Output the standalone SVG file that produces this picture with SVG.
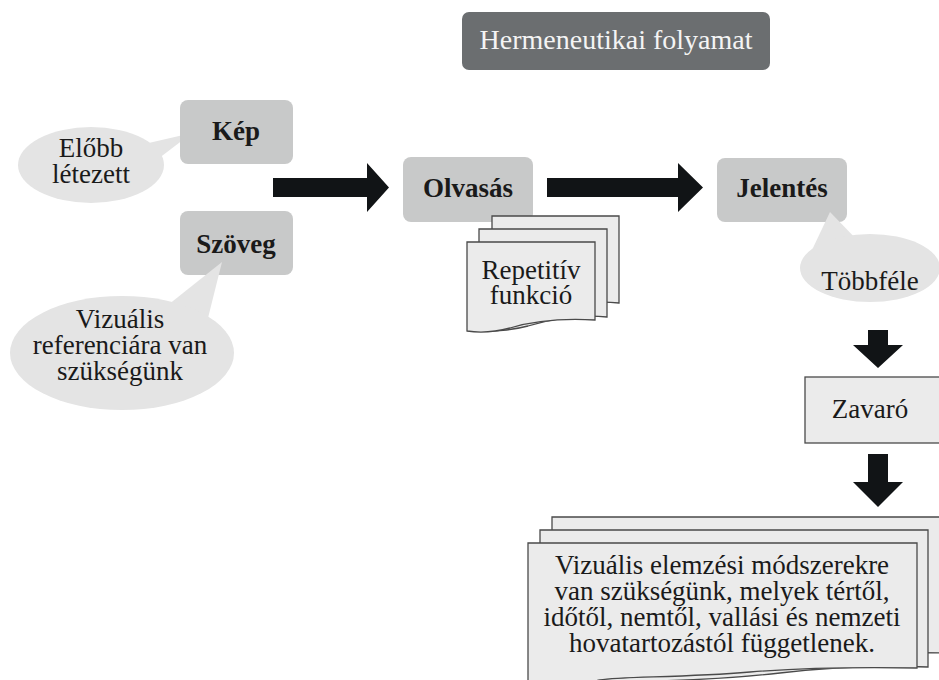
<svg xmlns="http://www.w3.org/2000/svg" width="939" height="680" viewBox="0 0 939 680" font-family="Liberation Serif, serif">
<style>
text{font-size:27px;fill:#1a1a1a;text-anchor:middle;stroke:none}
.b{font-weight:bold}
.hd{fill:#f4f4f4;font-size:28px}
.box{fill:#c8c9c9}
.bub{fill:#e4e4e4}
.page{fill:#ebebeb;stroke:#4a4a4a;stroke-width:1.3}
.arr{fill:#111416}
</style>
<rect width="939" height="680" fill="#ffffff"/>
<g id="header">
<rect x="462" y="12" width="308" height="58" rx="7" fill="#6b6e70"/>
<text class="hd" x="616" y="49">Hermeneutikai folyamat</text>
</g>
<g id="connectors">
<polygon class="arr" points="273,178 367,178 367,163 389,187.5 367,212 367,197 273,197"/>
<polygon class="arr" points="547,178 678,178 678,163 703,187.5 678,212 678,197 547,197"/>
<polygon class="arr" points="868,330 888,330 888,345 903,345 878,368 853,345 868,345"/>
<polygon class="arr" points="868,454 888,454 888,482 903,482 878,507 853,482 868,482"/>
</g>
<g id="bubble-elobb">
<polygon class="bub" points="140,145 192,133 150,165"/>
<ellipse class="bub" cx="91" cy="165" rx="73" ry="38"/>
<text><tspan x="91" y="157">Előbb</tspan><tspan x="91" y="183">létezett</tspan></text>
</g>
<g id="kep">
<rect class="box" x="180" y="100" width="113" height="64" rx="8"/>
<text class="b" x="236" y="140">Kép</text>
</g>
<g id="szoveg">
<rect class="box" x="180" y="211" width="113" height="64" rx="8"/>
<text class="b" x="236" y="253">Szöveg</text>
</g>
<g id="bubble-vizualis">
<polygon class="bub" points="168,305 222,262 208,318"/>
<ellipse class="bub" cx="122" cy="353" rx="112" ry="57"/>
<text><tspan x="120" y="328">Vizuális</tspan><tspan x="120" y="354">referenciára van</tspan><tspan x="120" y="380">szükségünk</tspan></text>
</g>
<g id="olvasas">
<rect class="box" x="403" y="157" width="130" height="65" rx="8"/>
<text class="b" x="468" y="197">Olvasás</text>
</g>
<g id="repetitiv">
<path class="page" d="M492,216 H619 V303 C590,300 560,306 540,312 C525,316 505,318 492,316 Z"/>
<path class="page" d="M479,229 H607 V317 C578,314 548,320 528,326 C513,330 493,332 479,330 Z"/>
<path class="page" d="M467,242 H595 V320 C560,318 530,322 510,328 C495,332 480,333 467,331 Z"/>
<text><tspan x="531" y="279">Repetitív</tspan><tspan x="531" y="304">funkció</tspan></text>
</g>
<g id="jelentes">
<rect class="box" x="717" y="158" width="130" height="64" rx="8"/>
<text class="b" x="782" y="197">Jelentés</text>
</g>
<g id="bubble-tobbfele">
<polygon class="bub" points="812,250 830,212 862,245"/>
<ellipse class="bub" cx="870" cy="268" rx="70" ry="34"/>
<text x="870" y="290">Többféle</text>
</g>
<g id="zavaro">
<rect class="page" x="805" y="377" width="145" height="66"/>
<text x="870" y="418">Zavaró</text>
</g>
<g id="vizualis-elemzesi">
<path class="page" d="M552,517 H945 V653 C900,652 850,654 800,660 C700,670 620,668 552,668 Z"/>
<path class="page" d="M540,530 H928 V667 C880,665 830,667 780,673 C700,682 620,682 540,682 Z"/>
<path class="page" d="M528,543 H917 V668 C860,667 800,668 750,672 C680,678 620,676 600,680 C580,684 550,686 528,686 Z"/>
<text><tspan x="722" y="574">Vizuális elemzési módszerekre</tspan><tspan x="722" y="600">van szükségünk, melyek tértől,</tspan><tspan x="722" y="626">időtől, nemtől, vallási és nemzeti</tspan><tspan x="722" y="652">hovatartozástól függetlenek.</tspan></text>
</g>
</svg>
